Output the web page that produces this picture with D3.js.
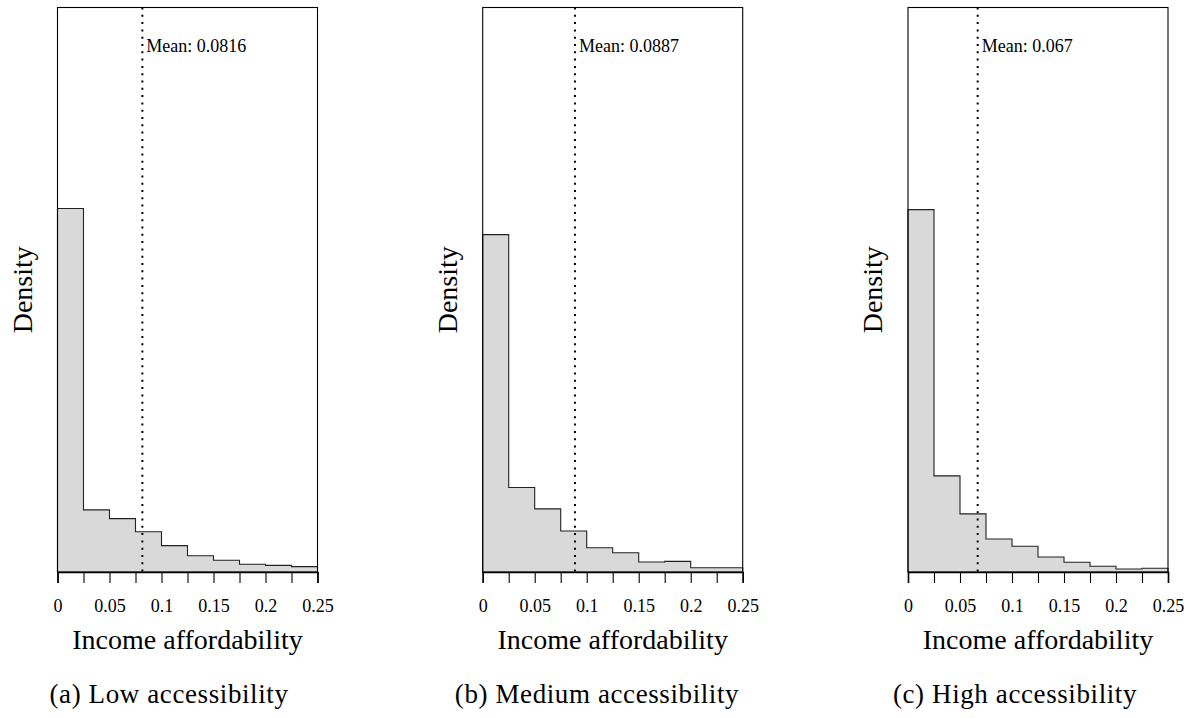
<!DOCTYPE html>
<html><head><meta charset="utf-8">
<script src="https://cdn.jsdelivr.net/npm/d3@7"></script>
<style>
html,body{margin:0;padding:0;background:#fff;}
svg{display:block;}
text{font-family:"Liberation Serif","Times New Roman",serif;fill:#000;}
</style></head>
<body>
<svg id="chart" width="1194" height="718"></svg>
<script>
// ---- data ----
const binEdges = [0,0.025,0.05,0.075,0.1,0.125,0.15,0.175,0.2,0.225,0.25];
const tickValues = [0,0.025,0.05,0.075,0.1,0.125,0.15,0.175,0.2,0.225,0.25];
const tickLabels = ["0","","0.05","","0.1","","0.15","","0.2","","0.25"];
const lowDensity    = [24.53,4.19,3.60,2.72,1.78,1.10,0.79,0.52,0.45,0.36];
const mediumDensity = [22.77,5.70,4.26,2.77,1.64,1.30,0.68,0.72,0.29,0.29];
const highDensity   = [24.46,6.49,3.92,2.23,1.74,1.01,0.66,0.39,0.20,0.25];
const means = [0.0816,0.0887,0.067];
const meanLabels = ["Mean: 0.0816","Mean: 0.0887","Mean: 0.067"];
const captions = ["(a) Low accessibility","(b) Medium accessibility","(c) High accessibility"];
const densityMax = 38.1;
const xLabel = "Income affordability";
const yLabel = "Density";

const series = [lowDensity, mediumDensity, highDensity];
const svg = d3.select("#chart");
const lefts = [57.5, 482.7, 908];
const W = 260, plotTop = 7.5, plotBottom = 572;
const captionCenters = [169, 597, 1015];

series.forEach((vals, i) => {
  const x = d3.scaleLinear().domain([0,0.25]).range([lefts[i], lefts[i]+W]);
  const y = d3.scaleLinear().domain([0,densityMax]).range([plotBottom, plotTop]);
  const g = svg.append("g");
  const bins = vals.map((v,k)=>({x0:binEdges[k], x1:binEdges[k+1], v}));
  // step outline points
  const pts = [[x(0), y(0)]];
  bins.forEach(d=>{ pts.push([x(d.x0), y(d.v)]); pts.push([x(d.x1), y(d.v)]); });
  pts.push([x(0.25), y(0)]);
  // fill
  g.append("path").attr("d", d3.line()(pts) + "Z")
    .attr("fill","#d9d9d9").attr("stroke","none");
  g.append("path").attr("d", d3.line()(pts)).attr("fill","none")
    .attr("stroke","#222").attr("stroke-width",1.1);
  // box (left, top, right)
  g.append("rect").attr("x", x(0)).attr("y", y(densityMax))
    .attr("width", W).attr("height", y(0)-y(densityMax))
    .attr("fill","none").attr("stroke","#000").attr("stroke-width",1.1);
  // x axis
  const ax = g.append("g").attr("transform",`translate(0,${plotBottom})`)
    .call(d3.axisBottom(x).tickValues(tickValues).tickSize(11).tickPadding(16)
      .tickFormat((d,k)=>tickLabels[k]));
  ax.select(".domain").attr("stroke","#000").attr("stroke-width",1.6);
  ax.selectAll(".tick line").attr("stroke","#000").attr("stroke-width",1.1);
  ax.selectAll(".tick text").attr("font-size",18).attr("font-family","Liberation Serif");
  // mean line
  g.append("line").attr("x1", x(means[i])).attr("x2", x(means[i]))
    .attr("y1", y(densityMax)).attr("y2", y(0))
    .attr("stroke","#000").attr("stroke-width",2)
    .attr("stroke-dasharray","2,5.3");
  g.append("text").attr("x", x(means[i])+4).attr("y", 52)
    .attr("font-size",18).text(meanLabels[i]);
  // axis titles
  g.append("text").attr("x", lefts[i]+W/2).attr("y", 649)
    .attr("text-anchor","middle").attr("font-size",28).text(xLabel);
  g.append("text").attr("transform",`translate(${lefts[i]-26},${(plotTop+plotBottom)/2}) rotate(-90)`)
    .attr("text-anchor","middle").attr("font-size",28).text(yLabel);
  // caption
  svg.append("text").attr("x", captionCenters[i]).attr("y", 703)
    .attr("text-anchor","middle").attr("font-size",27)
    .attr("letter-spacing","0.6px").text(captions[i]);
});
</script>
</body></html>
